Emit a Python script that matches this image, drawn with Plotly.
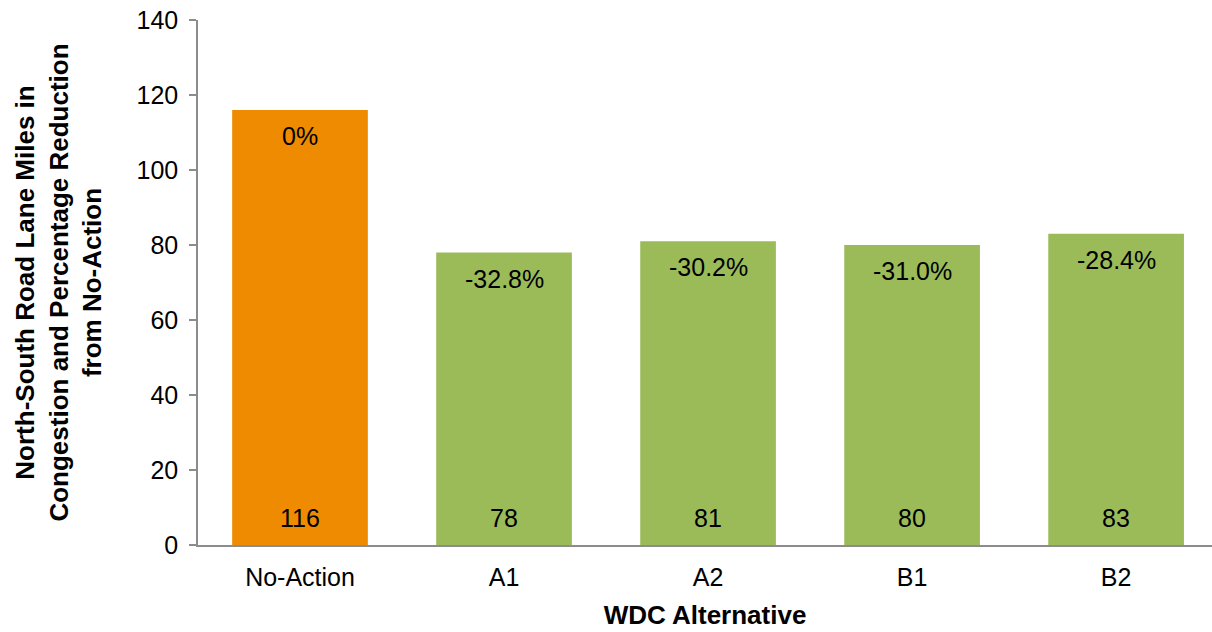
import plotly.graph_objects as go

categories = ["No-Action", "A1", "A2", "B1", "B2"]
lane_miles = [116, 78, 81, 80, 83]
pct_reduction = ["0%", "-32.8%", "-30.2%", "-31.0%", "-28.4%"]
bar_colors = ["#EE8B00", "#9BBB59", "#9BBB59", "#9BBB59", "#9BBB59"]
y_ticks = [0, 20, 40, 60, 80, 100, 120, 140]

FONT = "Liberation Sans, Arial, sans-serif"

fig = go.Figure()
fig.add_trace(go.Bar(
    x=categories, y=lane_miles,
    marker=dict(color=bar_colors, line=dict(width=0)),
    width=0.665,
    hoverinfo="x+y",
))

annotations = []
for c, v, p in zip(categories, lane_miles, pct_reduction):
    annotations.append(dict(x=c, y=v, text=p, showarrow=False, xref="x", yref="y",
                            yanchor="top", yshift=-10,
                            font=dict(family=FONT, size=25, color="#000000")))
    annotations.append(dict(x=c, y=0, text=str(v), showarrow=False, xref="x", yref="y",
                            yanchor="bottom", yshift=11,
                            font=dict(family=FONT, size=25, color="#000000")))

fig.update_layout(
    width=1212, height=632,
    margin=dict(l=198, r=0, t=20, b=87),
    paper_bgcolor="white", plot_bgcolor="white",
    showlegend=False,
    font=dict(family=FONT, size=25, color="#000000"),
    annotations=annotations,
    xaxis=dict(
        range=[-0.5, 4.47],
        showline=True, linecolor="#8C8C8C", linewidth=1.5,
        ticks="", showgrid=False,
        ticklabelstandoff=9,
        tickfont=dict(family=FONT, size=25, color="#000000"),
        title=dict(text="<b>WDC Alternative</b>", standoff=16,
                   font=dict(family=FONT, size=26, color="#000000")),
    ),
    yaxis=dict(
        range=[0, 140], tickvals=y_ticks,
        showline=True, linecolor="#8C8C8C", linewidth=1.5,
        ticks="outside", ticklen=7, tickcolor="#8C8C8C", tickwidth=1.5,
        ticklabelstandoff=6,
        showgrid=False, zeroline=False,
        tickfont=dict(family=FONT, size=25, color="#000000"),
        title=dict(text="<b>North-South Road Lane Miles in<br>Congestion and Percentage Reduction<br>from No-Action</b>",
                   standoff=27,
                   font=dict(family=FONT, size=26, color="#000000")),
    ),
)

fig.write_html("out.html")
